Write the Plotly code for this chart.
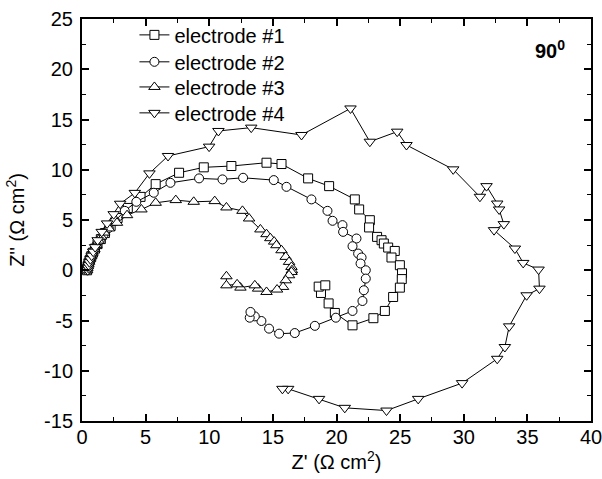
import plotly.graph_objects as go

# electrode #1 (squares)
e1_x = [0.40, 0.42, 0.46, 0.53, 0.62, 0.73, 0.86, 1.02, 1.22, 1.48, 1.80, 2.25, 2.80, 3.60, 4.60, 5.79,
        7.63, 9.57, 11.74, 14.50, 15.68, 17.77, 19.42, 21.44, 21.78, 22.62, 22.56, 23.19, 23.54, 23.72,
        24.06, 24.58, 24.32, 24.98, 25.15, 25.13, 24.98, 24.45, 23.80, 22.90, 21.26, 19.87, 19.38,
        18.78, 18.60, 19.12]
e1_y = [0.00, 0.20, 0.45, 0.75, 1.05, 1.40, 1.75, 2.15, 2.60, 3.10, 3.70, 4.40, 5.20, 6.20, 7.30, 8.57,
        9.70, 10.24, 10.37, 10.70, 10.57, 9.14, 8.37, 7.05, 6.05, 4.98, 4.26, 3.32, 2.99, 2.66,
        2.26, 1.92, 1.27, 0.50, -0.30, -0.88, -1.73, -2.66, -4.05, -4.77, -5.48, -4.25, -3.30,
        -2.26, -1.63, -1.50]

# electrode #2 (circles)
e2_x = [0.40, 0.42, 0.46, 0.52, 0.60, 0.70, 0.82, 0.97, 1.15, 1.40, 1.70, 2.10, 2.60, 3.36, 4.27, 5.64,
        6.95, 9.20, 11.04, 12.66, 15.07, 16.07, 18.03, 19.29, 19.69, 20.47, 20.52, 21.57, 21.26, 21.70,
        21.97, 21.89, 22.30, 22.30, 22.15, 22.04, 21.26, 19.95, 18.30, 16.72, 15.49, 14.70, 14.10,
        13.58, 13.18, 13.24]
e2_y = [0.00, 0.20, 0.45, 0.70, 1.00, 1.30, 1.65, 2.05, 2.50, 3.00, 3.55, 4.20, 4.90, 5.91, 6.81, 7.71,
        8.70, 9.14, 9.04, 9.20, 8.97, 8.30, 7.05, 5.91, 4.92, 4.49, 3.82, 3.16, 2.39, 1.66,
        1.27, 0.67, 0.00, -0.83, -1.99, -3.06, -4.05, -4.72, -5.53, -6.25, -6.31, -5.81, -5.05,
        -4.59, -4.72, -4.15]

# electrode #3 (up triangles)
e3_x = [0.40, 0.42, 0.45, 0.50, 0.56, 0.63, 0.72, 0.83, 0.97, 1.12, 1.30, 1.50, 1.75, 2.12, 2.75, 3.54,
        4.67, 5.79, 7.37, 8.78, 10.43, 11.35, 12.61, 13.13, 14.02, 14.50, 14.80, 15.10, 15.28, 15.68,
        16.01, 16.27, 16.46, 16.50, 16.46, 16.27, 16.01, 15.80, 15.33, 14.50, 13.84, 13.58, 12.45,
        12.19, 11.35, 11.35]
e3_y = [0.00, 0.20, 0.40, 0.60, 0.85, 1.10, 1.40, 1.75, 2.10, 2.50, 2.95, 3.35, 3.75, 4.16, 4.72, 5.48,
        6.05, 6.71, 6.98, 6.81, 6.88, 6.25, 5.91, 5.15, 4.06, 3.59, 3.19, 2.85, 2.49, 1.99,
        1.33, 0.83, 0.33, 0.00, -0.17, -0.50, -1.00, -1.66, -1.92, -2.16, -1.83, -1.50, -1.73,
        -1.40, -1.50, -0.60]

# electrode #4 (down triangles)
e4_x = [0.45, 0.48, 0.52, 0.58, 0.66, 0.76, 0.88, 1.03, 1.23, 1.55, 1.97, 2.49, 3.00, 4.15, 5.30, 6.76,
        9.99, 10.72, 13.30, 17.25, 21.10, 22.62, 24.77, 25.50, 29.17, 31.27, 31.79, 32.63, 32.78, 33.15,
        32.38, 34.02, 34.67, 35.88, 35.95, 34.94, 33.57, 33.23, 32.63, 29.87, 26.42, 23.93, 20.65,
        18.63, 16.20, 15.75]
e4_y = [0.00, 0.25, 0.50, 0.80, 1.10, 1.45, 1.85, 2.30, 2.99, 3.82, 4.66, 5.58, 6.62, 7.70, 9.64, 11.37,
        12.30, 13.86, 14.19, 13.46, 16.10, 12.79, 13.79, 12.46, 10.04, 7.31, 8.37, 6.64, 6.05, 4.59,
        3.99, 2.16, 0.73, 0.07, -1.83, -2.49, -5.58, -7.64, -8.81, -11.23, -12.80, -13.96, -13.69,
        -12.80, -11.80, -11.80]

names = ["electrode #1", "electrode #2", "electrode #3", "electrode #4"]
symbols = ["square", "circle", "triangle-up", "triangle-down"]
sizes = [9, 9, 10, 10]
xs = [e1_x, e2_x, e3_x, e4_x]
ys = [e1_y, e2_y, e3_y, e4_y]

x_ticks = [0, 5, 10, 15, 20, 25, 30, 35, 40]
y_ticks = [-15, -10, -5, 0, 5, 10, 15, 20, 25]

FONT = "Arial, 'Liberation Sans', Helvetica, sans-serif"
legend_ids = ["legend", "legend2", "legend3", "legend4"]
legend_rows = [0.9605, 0.8935, 0.831, 0.7665]

fig = go.Figure()
for x, y, n, s, sz, lid in zip(xs, ys, names, symbols, sizes, legend_ids):
    fig.add_trace(go.Scatter(
        x=x, y=y, name=n, mode="lines+markers", legend=lid,
        line=dict(color="black", width=1),
        marker=dict(symbol=s, size=sz, color="white", line=dict(color="black", width=1)),
    ))

axis_common = dict(
    showgrid=False, zeroline=False, showline=True, linecolor="black", linewidth=2,
    mirror="ticks", ticks="inside", ticklen=7, tickwidth=1.5, tickcolor="black",
    tickfont=dict(family=FONT, size=20, color="black"), automargin=False,
    ticklabeloverflow="allow",
)

fig.update_xaxes(
    range=[0, 40], tickvals=x_ticks, ticktext=[str(v) for v in x_ticks],
    minor=dict(dtick=2.5, tick0=0, ticks="inside", ticklen=4, tickwidth=1.2, tickcolor="black"),
    title=dict(text="Z' (Ω cm<sup>2</sup>)", font=dict(family=FONT, size=20, color="black"), standoff=0),
    ticklabelstandoff=-3,
    **axis_common,
)
fig.update_yaxes(
    range=[-15, 25], tickvals=y_ticks, ticktext=[str(v) for v in y_ticks],
    minor=dict(dtick=2.5, tick0=0, ticks="inside", ticklen=4, tickwidth=1.2, tickcolor="black"),
    title=dict(text="Z'' (Ω cm<sup>2</sup>)", font=dict(family=FONT, size=20, color="black"), standoff=14),
    ticklabelstandoff=3,
    **axis_common,
)

fig.add_annotation(
    text="<b>90<sup>0</sup></b>", xref="paper", yref="paper", x=0.953, y=0.925,
    xanchor="right", yanchor="middle", showarrow=False,
    font=dict(family=FONT, size=20, color="black"),
)

legend_layout = {}
for lid, ly in zip(legend_ids, legend_rows):
    legend_layout[lid] = dict(
        x=0.103, y=ly, xanchor="left", yanchor="middle",
        bgcolor="rgba(0,0,0,0)", borderwidth=0,
        font=dict(family=FONT, size=20, color="black"),
    )

fig.update_layout(
    width=602, height=479,
    margin=dict(l=82, r=11, t=19, b=58, autoexpand=False),
    paper_bgcolor="white", plot_bgcolor="white",
    showlegend=True,
    **legend_layout,
)

fig.write_html("out.html", config={"displayModeBar": False},
               post_script="document.body.style.margin='0px';")
